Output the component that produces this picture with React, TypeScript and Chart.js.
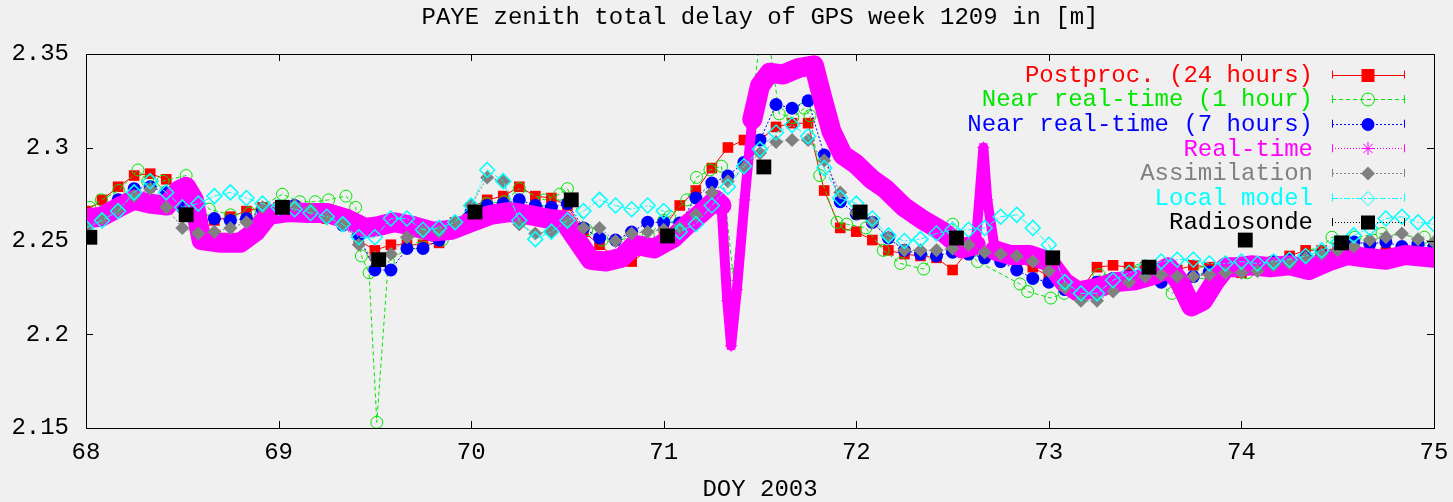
import React, { useEffect, useRef } from 'react';
import { Chart, registerables } from 'chart.js';

Chart.register(...registerables);

// ---------- data ----------
// hours since DOY 68.0 (2-hourly grid used by several series)
const HOURS = [0, 2, 4, 6, 8, 10, 12, 14, 16, 18, 20, 22, 24, 26, 28, 30, 32, 34, 36, 38, 40, 42, 44, 46, 48, 50, 52, 54, 56, 58, 60, 62, 64, 66, 68, 70, 72, 74, 76, 78, 80, 82, 84, 86, 88, 90, 92, 94, 96, 98, 100, 102, 104, 106, 108, 110, 112, 114, 116, 118, 120, 122, 124, 126, 128, 130, 132, 134, 136, 138, 140, 142, 144, 146, 148, 150, 152, 154, 156, 158, 160, 162, 164, 166, 168];

const POSTPROC = [2.266, 2.272, 2.279, 2.285, 2.286, 2.283, 2.269, 2.262, 2.261, 2.263,
  2.266, 2.268, 2.268, 2.267, 2.264, 2.262, 2.260, 2.2505, 2.245, 2.248,
  2.248, 2.248, 2.249, 2.260, 2.268, 2.272, 2.274, 2.279, 2.274, 2.273,
  2.269, 2.255, 2.248, 2.241, 2.239, 2.245, 2.257, 2.269, 2.277, 2.289,
  2.300, 2.304, 2.304, 2.311, 2.313, 2.313, 2.277, 2.257, 2.255, 2.2505,
  2.245, 2.243, 2.242, 2.241, 2.2345, 2.245, 2.2425, 2.243, 2.239, 2.236,
  2.231, 2.2265, 2.224, 2.236, 2.237, 2.236, 2.236, 2.2345, 2.2345, 2.237,
  2.236, 2.2345, 2.233, 2.236, 2.239, 2.242, 2.245, 2.245, 2.246, 2.245,
  2.244, 2.244, 2.2425, 2.244, 2.245];

const NRT7 = [2.261, 2.265, 2.272, 2.278, 2.279, 2.276, 2.268, 2.2655, 2.262, 2.261,
  2.262, 2.2665, 2.268, 2.269, 2.2665, 2.264, 2.2585, 2.253, 2.2345, 2.2345,
  2.246, 2.246, 2.2505, 2.2585, 2.2655, 2.269, 2.270, 2.272, 2.269, 2.268,
  2.270, 2.257, 2.2516, 2.2505, 2.2548, 2.260, 2.260, 2.2596, 2.273, 2.281,
  2.2848, 2.292, 2.304, 2.323, 2.321, 2.325, 2.296, 2.271, 2.2645, 2.260,
  2.2516, 2.245, 2.243, 2.242, 2.244, 2.243, 2.241, 2.239, 2.2345, 2.230,
  2.228, 2.224, 2.2227, 2.228, 2.230, 2.231, 2.229, 2.228, 2.229, 2.231,
  2.2334, 2.2345, 2.2356, 2.237, 2.239, 2.240, 2.241, 2.2425, 2.244, 2.2495,
  2.2484, 2.2495, 2.247, 2.2484, 2.247];

const ASSIM = [2.257, 2.262, 2.267, 2.274, 2.278, 2.268, 2.257, 2.254, 2.255, 2.257,
  2.260, 2.268, 2.269, 2.269, 2.267, 2.262, 2.259, 2.248, 2.241, 2.243,
  2.252, 2.255, 2.255, 2.260, 2.269, 2.284, 2.282, 2.259, 2.254, 2.255,
  2.260, 2.257, 2.257, 2.250, 2.254, 2.255, 2.256, 2.257, 2.264, 2.276,
  2.282, 2.289, 2.297, 2.303, 2.304, 2.304, 2.293, 2.276, 2.265, 2.260,
  2.252, 2.245, 2.245, 2.245, 2.246, 2.248, 2.244, 2.243, 2.242, 2.239,
  2.234, 2.225, 2.218, 2.218, 2.223, 2.228, 2.231, 2.232, 2.231, 2.231,
  2.232, 2.233, 2.233, 2.234, 2.237, 2.238, 2.241, 2.243, 2.245, 2.247,
  2.2505, 2.252, 2.254, 2.251, 2.2495];

const LOCAL = [2.257, 2.261, 2.266, 2.276, 2.282, 2.276, 2.268, 2.270, 2.274, 2.276,
  2.273, 2.270, 2.268, 2.267, 2.265, 2.263, 2.259, 2.252, 2.252, 2.262,
  2.262, 2.256, 2.257, 2.260, 2.269, 2.288, 2.282, 2.261, 2.251, 2.255,
  2.261, 2.266, 2.272, 2.269, 2.267, 2.269, 2.266, 2.255, 2.259, 2.269,
  2.279, 2.290, 2.299, 2.308, 2.312, 2.306, 2.289, 2.273, 2.270, 2.262,
  2.253, 2.250, 2.251, 2.254, 2.256, 2.256, 2.257, 2.263, 2.264, 2.257,
  2.248, 2.228, 2.222, 2.222, 2.229, 2.233, 2.236, 2.239, 2.240, 2.240,
  2.238, 2.238, 2.239, 2.238, 2.239, 2.240, 2.242, 2.245, 2.249, 2.253,
  2.257, 2.262, 2.263, 2.260, 2.259];

const NRT1_DOY = [68.02, 68.08, 68.17, 68.27, 68.32, 68.40, 68.52, 68.64, 68.75, 68.85,
  69.02, 69.11, 69.19, 69.26, 69.35, 69.40, 69.43, 69.47, 69.51, 69.57, 69.71, 69.85, 69.95,
  70.08, 70.17, 70.25, 70.38, 70.46, 70.50, 70.60, 70.68, 70.80, 70.92,
  71.00, 71.03, 71.12, 71.17, 71.24, 71.30, 71.36, 71.52, 71.60, 71.67, 71.73, 71.76, 71.81, 71.90, 71.95,
  72.05, 72.14, 72.23, 72.35, 72.50, 72.58, 72.63, 72.85, 72.89,
  73.01, 73.08, 73.26, 73.30, 73.47, 73.64, 73.80,
  74.03, 74.20, 74.37, 74.47, 74.59, 74.73, 74.95];
const NRT1 = [2.268, 2.272, 2.277, 2.288, 2.282, 2.282, 2.285, 2.267, 2.264, 2.265,
  2.275, 2.271, 2.271, 2.272, 2.274, 2.268, 2.242, 2.233, 2.153, 2.239, 2.249, 2.2505, 2.257,
  2.270, 2.271, 2.278, 2.272, 2.275, 2.278, 2.256, 2.2505, 2.248, 2.253,
  2.261, 2.263, 2.272, 2.284, 2.288, 2.290, 2.232, 2.377, 2.318, 2.316, 2.321, 2.317, 2.285, 2.260, 2.259,
  2.257, 2.245, 2.238, 2.235, 2.259, 2.2436, 2.239, 2.227, 2.223,
  2.2195, 2.222, 2.232, 2.229, 2.2345, 2.222, 2.233,
  2.233, 2.2356, 2.2425, 2.252, 2.252, 2.254, 2.252];

const RT_DOY = [68.00, 68.08, 68.17, 68.25, 68.33, 68.42, 68.48, 68.52, 68.56, 68.60,
  68.70, 68.80, 68.88, 68.95,
  69.05, 69.15, 69.25, 69.35, 69.45, 69.52, 69.60, 69.70, 69.80, 69.90,
  70.00, 70.10, 70.20, 70.30, 70.40, 70.48,
  70.55, 70.62, 70.70, 70.78, 70.85, 70.95,
  71.05, 71.12, 71.20, 71.27, 71.30, 71.33, 71.35, 71.38, 71.42, 71.46, 71.50, 71.55, 71.62, 71.70, 71.78, 71.82, 71.87, 71.93,
  72.00, 72.08, 72.15, 72.25, 72.35, 72.45, 72.55, 72.62, 72.66, 72.68, 72.72, 72.80, 72.90,
  73.00, 73.08, 73.15, 73.25, 73.35, 73.45, 73.55, 73.62, 73.68, 73.74, 73.80, 73.86, 73.92, 73.97,
  74.05, 74.15, 74.25, 74.35, 74.45, 74.55, 74.65, 74.75, 74.85,
  75.00];
const RT = [2.262, 2.263, 2.268, 2.272, 2.270, 2.269, 2.277, 2.279, 2.272, 2.2505,
  2.249, 2.249, 2.255, 2.264,
  2.2655, 2.265, 2.265, 2.262, 2.257, 2.258, 2.260, 2.258, 2.255, 2.256,
  2.260, 2.264, 2.2655, 2.264, 2.262, 2.261,
  2.2505, 2.240, 2.239, 2.241, 2.248, 2.246,
  2.2516, 2.2585, 2.2655, 2.272, 2.269, 2.218, 2.194, 2.224, 2.272, 2.315, 2.333, 2.340, 2.339, 2.3425, 2.344, 2.328, 2.309, 2.296,
  2.291, 2.283, 2.278, 2.268, 2.261, 2.255, 2.246, 2.248, 2.300, 2.272, 2.245, 2.2425, 2.2425,
  2.239, 2.228, 2.223, 2.225, 2.228, 2.229, 2.232, 2.236, 2.228, 2.215, 2.218, 2.228, 2.236, 2.236,
  2.237, 2.236, 2.237, 2.2345, 2.239, 2.2425, 2.241, 2.240, 2.2425,
  2.241];

const SONDE_DOY = [68.02, 68.52, 69.02, 69.52, 70.02, 70.52, 71.02, 71.52, 72.02, 72.52, 73.02, 73.52, 74.02, 74.52];
const SONDE = [2.252, 2.264, 2.268, 2.240, 2.2655, 2.272, 2.2527, 2.2896, 2.2655, 2.2516, 2.241, 2.236, 2.2505, 2.249];

const X_TICKS = [68, 69, 70, 71, 72, 73, 74, 75];
const Y_TICKS = [2.15, 2.2, 2.25, 2.3, 2.35];
const Y_TICK_LABELS = ['2.15', '2.2', '2.25', '2.3', '2.35'];

const TITLE = 'PAYE zenith total delay of GPS week 1209 in [m]';
const X_TITLE = 'DOY 2003';

const LEGEND = [
  { label: 'Postproc. (24 hours)', color: '#ff0000', dash: [], marker: 'square' },
  { label: 'Near real-time (1 hour)', color: '#00e600', dash: [4, 3], marker: 'circleOpen' },
  { label: 'Near real-time (7 hours)', color: '#0000ff', dash: [2, 2], marker: 'circle' },
  { label: 'Real-time', color: '#ff00ff', dash: [1, 2], marker: 'star' },
  { label: 'Assimilation', color: '#808080', dash: [2, 2], marker: 'diamond' },
  { label: 'Local model', color: '#00ffff', dash: [6, 2, 2, 2], marker: 'diamondOpen' },
  { label: 'Radiosonde', color: '#000000', dash: [1, 2], marker: 'bigsquare' },
];

const FONT = '24px "Liberation Mono", "DejaVu Sans Mono", monospace';

const grid = (vals: number[]) => vals.map((v, i) => ({ x: 68 + HOURS[i] / 24, y: v }));
const pairs = (xs: number[], ys: number[]) => xs.map((x, i) => ({ x, y: ys[i] }));

function drawMarker(ctx: CanvasRenderingContext2D, kind: string, cx: number, cy: number, color: string) {
  ctx.save();
  ctx.setLineDash([]);
  ctx.fillStyle = color;
  ctx.strokeStyle = color;
  ctx.lineWidth = 1;
  ctx.beginPath();
  if (kind === 'square') {
    ctx.fillRect(cx - 6.5, cy - 6.5, 13, 13);
  } else if (kind === 'bigsquare') {
    ctx.fillRect(cx - 7, cy - 7, 14, 14);
  } else if (kind === 'circle') {
    ctx.arc(cx, cy, 6.5, 0, Math.PI * 2);
    ctx.fill();
  } else if (kind === 'circleOpen') {
    ctx.arc(cx, cy, 6.5, 0, Math.PI * 2);
    ctx.stroke();
  } else if (kind === 'star') {
    const r = 6.5;
    const d = r * Math.SQRT1_2;
    ctx.moveTo(cx - r, cy); ctx.lineTo(cx + r, cy);
    ctx.moveTo(cx, cy - r); ctx.lineTo(cx, cy + r);
    ctx.moveTo(cx - d, cy - d); ctx.lineTo(cx + d, cy + d);
    ctx.moveTo(cx - d, cy + d); ctx.lineTo(cx + d, cy - d);
    ctx.stroke();
  } else if (kind === 'diamond' || kind === 'diamondOpen') {
    const r = 7;
    ctx.moveTo(cx - r, cy); ctx.lineTo(cx, cy - r); ctx.lineTo(cx + r, cy); ctx.lineTo(cx, cy + r);
    ctx.closePath();
    if (kind === 'diamond') ctx.fill(); else ctx.stroke();
  }
  ctx.restore();
}

const gnuplotFrame = {
  id: 'gnuplotFrame',
  beforeDraw(chart: any) {
    const { ctx, width, height } = chart;
    ctx.save();
    ctx.fillStyle = '#f0f0f0';
    ctx.fillRect(0, 0, width, height);
    ctx.restore();
  },
  afterDraw(chart: any) {
    const { ctx, chartArea: a, scales } = chart;
    const xs = scales.x;
    const ys = scales.y;
    ctx.save();
    ctx.setLineDash([]);
    ctx.strokeStyle = '#000';
    ctx.lineWidth = 1;
    ctx.strokeRect(Math.round(a.left) + 0.5, Math.round(a.top) + 0.5, Math.round(a.right - a.left), Math.round(a.bottom - a.top));
    ctx.beginPath();
    X_TICKS.forEach((v) => {
      const px = Math.round(xs.getPixelForValue(v)) + 0.5;
      ctx.moveTo(px, a.bottom); ctx.lineTo(px, a.bottom - 7);
      ctx.moveTo(px, a.top); ctx.lineTo(px, a.top + 7);
    });
    Y_TICKS.forEach((v) => {
      const py = Math.round(ys.getPixelForValue(v)) + 0.5;
      ctx.moveTo(a.left, py); ctx.lineTo(a.left + 7, py);
      ctx.moveTo(a.right, py); ctx.lineTo(a.right - 7, py);
    });
    ctx.stroke();

    ctx.font = FONT;
    ctx.fillStyle = '#000';
    ctx.textBaseline = 'middle';
    ctx.textAlign = 'center';
    X_TICKS.forEach((v) => {
      ctx.fillText(String(v), xs.getPixelForValue(v), a.bottom + 25);
    });
    ctx.textAlign = 'right';
    Y_TICKS.forEach((v, i) => {
      ctx.fillText(Y_TICK_LABELS[i], a.left - 17, ys.getPixelForValue(v));
    });
    ctx.textAlign = 'center';
    const cx = (a.left + a.right) / 2;
    ctx.fillText(TITLE, cx, 18);
    ctx.fillText(X_TITLE, cx, 490);

    // legend
    LEGEND.forEach((item, i) => {
      const y = 74.5 + 24.6 * i;
      ctx.fillStyle = item.color;
      ctx.textAlign = 'right';
      ctx.fillText(item.label, 1313, y + 1);
      ctx.strokeStyle = item.color;
      ctx.lineWidth = 1;
      ctx.setLineDash(item.dash);
      ctx.beginPath();
      ctx.moveTo(1332, Math.round(y) + 0.5);
      ctx.lineTo(1405, Math.round(y) + 0.5);
      ctx.stroke();
      ctx.setLineDash([]);
      ctx.beginPath();
      ctx.moveTo(1332.5, y - 4); ctx.lineTo(1332.5, y + 4);
      ctx.moveTo(1404.5, y - 4); ctx.lineTo(1404.5, y + 4);
      ctx.stroke();
      drawMarker(ctx, item.marker, 1368, Math.round(y) + 0.5, item.color);
    });
    ctx.restore();
  },
};

export default function App() {
  const canvasRef = useRef<HTMLCanvasElement | null>(null);

  useEffect(() => {
    document.body.style.margin = '0';
    document.body.style.background = '#f0f0f0';
    const canvas = canvasRef.current;
    if (!canvas) return;
    const chart = new Chart(canvas, {
      type: 'line',
      data: {
        datasets: [
          {
            label: LEGEND[0].label,
            data: grid(POSTPROC),
            borderColor: '#ff0000',
            backgroundColor: '#ff0000',
            pointBackgroundColor: '#ff0000',
            borderWidth: 1,
            pointStyle: 'rect',
            pointRadius: 7.5,
            pointBorderWidth: 0,
            order: 7,
          },
          {
            label: LEGEND[1].label,
            data: pairs(NRT1_DOY, NRT1),
            borderColor: '#00e600',
            backgroundColor: 'rgba(0,0,0,0)',
            pointBackgroundColor: 'rgba(0,0,0,0)',
            pointBorderColor: '#00e600',
            borderWidth: 1,
            borderDash: [4, 3],
            pointStyle: 'circle',
            pointRadius: 6,
            pointBorderWidth: 1,
            order: 6,
          },
          {
            label: LEGEND[2].label,
            data: grid(NRT7),
            borderColor: '#0000ff',
            backgroundColor: '#0000ff',
            pointBackgroundColor: '#0000ff',
            borderWidth: 1,
            borderDash: [2, 2],
            pointStyle: 'circle',
            pointRadius: 6.5,
            pointBorderWidth: 0,
            order: 5,
          },
          {
            label: LEGEND[3].label,
            data: pairs(RT_DOY, RT),
            borderColor: '#ff00ff',
            backgroundColor: '#ff00ff',
            pointBorderColor: '#ff00ff',
            borderWidth: 20,
            borderJoinStyle: 'round',
            borderCapStyle: 'round',
            segment: {
              borderWidth: (c: any) => (Math.abs(c.p1.parsed.y - c.p0.parsed.y) > 0.023 ? 10 : 20),
            },
            pointStyle: 'star',
            pointRadius: 6,
            pointBorderWidth: 1,
            order: 4,
          },
          {
            label: LEGEND[4].label,
            data: grid(ASSIM),
            borderColor: '#808080',
            backgroundColor: '#808080',
            pointBackgroundColor: '#808080',
            borderWidth: 1,
            borderDash: [2, 2],
            pointStyle: 'rectRot',
            pointRadius: 7,
            pointBorderWidth: 0,
            order: 3,
          },
          {
            label: LEGEND[5].label,
            data: grid(LOCAL),
            borderColor: '#00ffff',
            backgroundColor: 'rgba(0,0,0,0)',
            pointBackgroundColor: 'rgba(0,0,0,0)',
            pointBorderColor: '#00ffff',
            borderWidth: 1,
            borderDash: [6, 2, 2, 2],
            pointStyle: 'rectRot',
            pointRadius: 7.5,
            pointBorderWidth: 1.5,
            order: 2,
          },
          {
            label: LEGEND[6].label,
            data: pairs(SONDE_DOY, SONDE),
            borderColor: '#000000',
            backgroundColor: '#000000',
            pointBackgroundColor: '#000000',
            showLine: false,
            pointStyle: 'rect',
            pointRadius: 10.5,
            pointBorderWidth: 0,
            order: 1,
          },
        ],
      },
      options: {
        animation: false,
        responsive: false,
        devicePixelRatio: 1,
        layout: { padding: { top: 54, right: 19, left: 0, bottom: 0 } },
        plugins: {
          legend: { display: false },
          title: { display: false },
          tooltip: { enabled: false },
        },
        scales: {
          x: {
            type: 'linear',
            min: 68,
            max: 75,
            ticks: { display: false, stepSize: 1 },
            grid: { display: false },
            border: { display: false },
            afterFit: (s: any) => { s.height = 74; },
          },
          y: {
            type: 'linear',
            min: 2.15,
            max: 2.35,
            ticks: { display: false, stepSize: 0.05 },
            grid: { display: false },
            border: { display: false },
            afterFit: (s: any) => { s.width = 86; },
          },
        },
      } as any,
      plugins: [gnuplotFrame],
    });
    return () => chart.destroy();
  }, []);

  return (
    <div style={{ position: 'absolute', left: 0, top: 0, width: 1453, height: 502, background: '#f0f0f0' }}>
      <canvas ref={canvasRef} width={1453} height={502} style={{ display: 'block', width: 1453, height: 502 }} />
    </div>
  );
}
